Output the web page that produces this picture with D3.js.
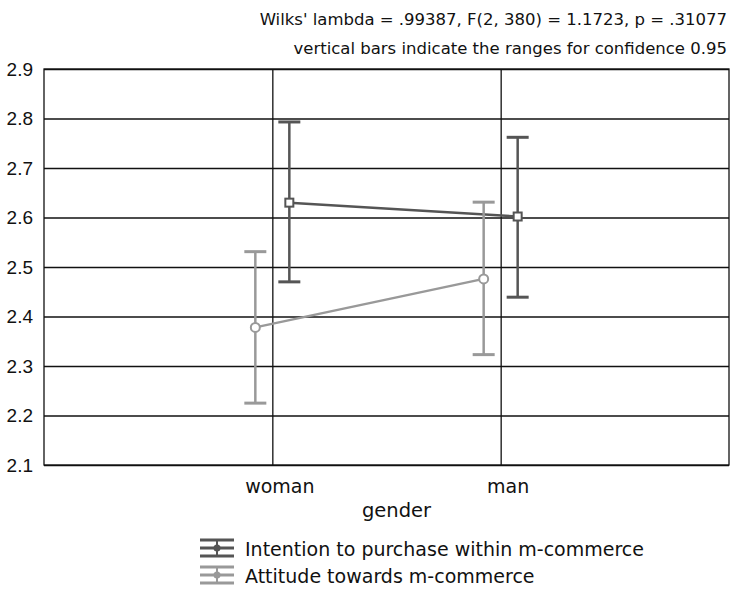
<!DOCTYPE html>
<html>
<head>
<meta charset="utf-8">
<script src="https://cdn.jsdelivr.net/npm/d3@7"></script>
<style>
  body { margin: 0; background: #fff; }
  svg { display: block; font-family: "DejaVu Sans", sans-serif; }
</style>
</head>
<body>
<svg width="735" height="590"></svg>
<script>
const categories = ['woman', 'man'];
const yTicks = [2.1, 2.2, 2.3, 2.4, 2.5, 2.6, 2.7, 2.8, 2.9];

// means and 95% ranges
const intentionMean = [2.630, 2.602];
const intentionLow = [2.470, 2.439];
const intentionHigh = [2.793, 2.762];

const attitudeMean = [2.378, 2.476];
const attitudeLow = [2.225, 2.323];
const attitudeHigh = [2.531, 2.631];

const titleLines = [
  "Wilks' lambda = .99387, F(2, 380) = 1.1723, p = .31077",
  'vertical bars indicate the ranges for confidence 0.95'
];

const series = [
  { name: 'Intention to purchase within m-commerce', mean: intentionMean, low: intentionLow, high: intentionHigh, color: '#555', shift: 17, marker: 'square' },
  { name: 'Attitude towards m-commerce', mean: attitudeMean, low: attitudeLow, high: attitudeHigh, color: '#999', shift: -17, marker: 'circle' }
];

const svg = d3.select('svg');
const margin = { left: 44, right: 6, top: 69, bottom: 125 };
const width = +svg.attr('width');
const height = +svg.attr('height');

const x = d3.scalePoint()
  .domain(categories)
  .range([margin.left, width - margin.right])
  .padding(1);

const y = d3.scaleLinear()
  .domain([2.1, 2.9])
  .range([height - margin.bottom, margin.top]);

// title
svg.append('g')
  .selectAll('text')
  .data(titleLines)
  .enter()
  .append('text')
  .attr('x', 727)
  .attr('y', (_, i) => 25 + i * 29)
  .attr('text-anchor', 'end')
  .attr('font-size', 16.5)
  .attr('fill', '#111')
  .text(d => d);

// horizontal grid + y labels
svg.append('g')
  .attr('transform', `translate(${margin.left},0)`)
  .call(d3.axisLeft(y)
    .tickValues(yTicks)
    .tickFormat(d3.format('.1f'))
    .tickSize(-(width - margin.left - margin.right))
    .tickPadding(11))
  .call(g => g.select('.domain').remove())
  .call(g => g.selectAll('.tick line').attr('stroke', '#111').attr('stroke-width', 1.3))
  .call(g => g.selectAll('.tick text')
    .attr('font-size', 19)
    .attr('fill', '#111')
    .attr('font-family', '"Liberation Sans", Arial, sans-serif'));

// vertical lines at categories + labels
svg.append('g')
  .attr('transform', `translate(0,${height - margin.bottom})`)
  .call(d3.axisBottom(x)
    .tickSize(-(height - margin.top - margin.bottom))
    .tickPadding(15))
  .call(g => g.select('.domain').remove())
  .call(g => g.selectAll('.tick line').attr('stroke', '#111').attr('stroke-width', 1.3))
  .call(g => g.selectAll('.tick text')
    .attr('dx', 7)
    .attr('font-size', 19)
    .attr('fill', '#111')
    .attr('font-family', '"DejaVu Sans", sans-serif'));

// frame
svg.append('rect')
  .attr('x', margin.left)
  .attr('y', margin.top)
  .attr('width', width - margin.left - margin.right)
  .attr('height', height - margin.top - margin.bottom)
  .attr('fill', 'none')
  .attr('stroke', '#111')
  .attr('stroke-width', 1.3);

svg.append('text')
  .attr('x', (margin.left + width - margin.right) / 2 + 10)
  .attr('y', 517)
  .attr('text-anchor', 'middle')
  .attr('font-size', 19.5)
  .attr('fill', '#111')
  .text('gender');

const capW = 11;

series.forEach(s => {
  const g = svg.append('g');
  const px = (_, i) => x(categories[i]) + s.shift;

  g.selectAll('.bar')
    .data(s.mean)
    .enter()
    .append('line')
    .attr('x1', px).attr('x2', px)
    .attr('y1', (_, i) => y(s.low[i]))
    .attr('y2', (_, i) => y(s.high[i]))
    .attr('stroke', s.color)
    .attr('stroke-width', 2.5);

  ['low', 'high'].forEach(k => {
    g.selectAll('.cap-' + k)
      .data(s[k])
      .enter()
      .append('line')
      .attr('x1', (_, i) => px(_, i) - capW)
      .attr('x2', (_, i) => px(_, i) + capW)
      .attr('y1', d => y(d))
      .attr('y2', d => y(d))
      .attr('stroke', s.color)
      .attr('stroke-width', 3);
  });

  g.append('path')
    .datum(s.mean)
    .attr('d', d3.line().x(px).y(d => y(d)))
    .attr('fill', 'none')
    .attr('stroke', s.color)
    .attr('stroke-width', 2.5);

  if (s.marker === 'square') {
    g.selectAll('.mk')
      .data(s.mean)
      .enter()
      .append('rect')
      .attr('x', (_, i) => px(_, i) - 4)
      .attr('y', d => y(d) - 4)
      .attr('width', 8)
      .attr('height', 8)
      .attr('fill', '#fff')
      .attr('stroke', s.color)
      .attr('stroke-width', 2);
  } else {
    g.selectAll('.mk')
      .data(s.mean)
      .enter()
      .append('circle')
      .attr('cx', px)
      .attr('cy', d => y(d))
      .attr('r', 4.5)
      .attr('fill', '#fff')
      .attr('stroke', s.color)
      .attr('stroke-width', 2);
  }
});

// legend
const legend = svg.append('g')
  .selectAll('g')
  .data(series)
  .enter()
  .append('g')
  .attr('transform', (_, i) => `translate(200,${540 + i * 27})`);

legend.each(function (s) {
  const g = d3.select(this);
  [0, 8, 16].forEach(dy => {
    g.append('line')
      .attr('x1', 0).attr('x2', 34)
      .attr('y1', dy).attr('y2', dy)
      .attr('stroke', s.color)
      .attr('stroke-width', 3);
  });
  g.append('line')
    .attr('x1', 17).attr('x2', 17)
    .attr('y1', 0).attr('y2', 16)
    .attr('stroke', s.color)
    .attr('stroke-width', 2);
  g.append('circle')
    .attr('cx', 17).attr('cy', 8)
    .attr('r', 3.5)
    .attr('fill', s.color);
  g.append('text')
    .attr('x', 45)
    .attr('y', 16)
    .attr('font-size', 19)
    .attr('fill', '#111')
    .text(s.name);
});
</script>
</body>
</html>
